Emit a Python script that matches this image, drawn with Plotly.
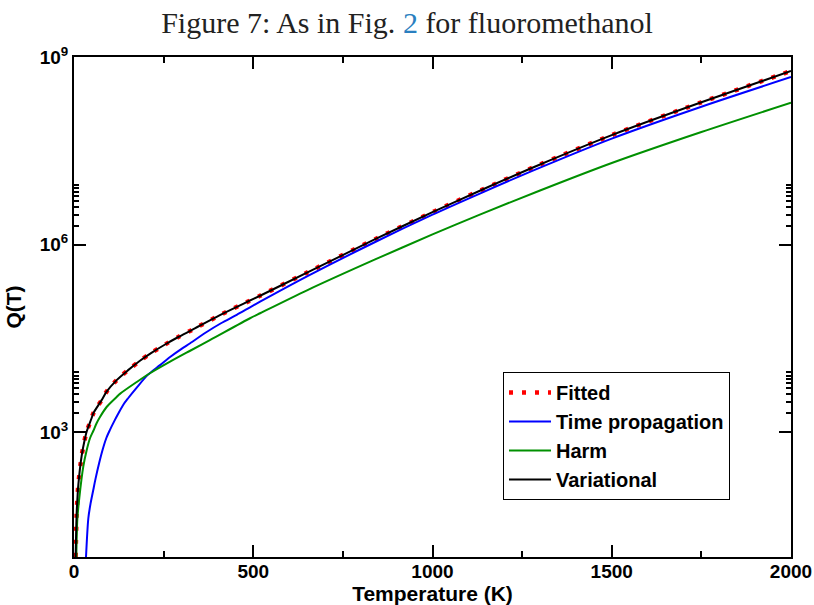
import plotly.graph_objects as go

# ---- data (log10 of Q(T)) ----
temp_variational = [4.5, 7.4, 9.3, 12, 21.4, 30.7, 35, 49, 54, 68, 77, 91, 119, 151, 184, 217,
                    254, 291, 328, 407, 519, 650, 840, 1000, 1132, 1300, 1500, 1750, 2000]
log_q_variational = [1.0, 1.7, 1.91, 2.15, 2.62, 2.90, 3.0, 3.22, 3.30, 3.43, 3.51, 3.645, 3.83,
                     3.99, 4.14, 4.27, 4.40, 4.52, 4.63, 4.87, 5.18, 5.55, 6.085, 6.517, 6.86,
                     7.28, 7.75, 8.275, 8.776]

temp_fitted = [4.5, 7.4, 9.3, 12, 21.4, 30.7, 35, 49, 54, 68, 77, 91, 119, 151, 184, 217,
               254, 291, 328, 407, 519, 650, 840, 1000, 1132, 1300, 1500, 1750, 2000]
log_q_fitted = [1.0, 1.7, 1.91, 2.15, 2.62, 2.90, 3.0, 3.22, 3.30, 3.43, 3.51, 3.645, 3.83,
                3.99, 4.14, 4.27, 4.40, 4.52, 4.63, 4.87, 5.18, 5.55, 6.085, 6.517, 6.86,
                7.28, 7.75, 8.275, 8.776]

temp_time_prop = [33.5, 40, 46, 54, 60, 70, 80, 90, 100, 112, 124, 138, 151, 175, 205, 240, 268,
                  300, 324, 370, 410, 454, 491, 519, 650, 840, 1000, 1132, 1300, 1500, 1750, 2000]
log_q_time_prop = [1.0, 1.62, 1.85, 2.08, 2.25, 2.50, 2.72, 2.90, 3.03, 3.17, 3.30, 3.44, 3.54,
                   3.71, 3.91, 4.07, 4.20, 4.33, 4.42, 4.60, 4.74, 4.875, 4.995, 5.085, 5.49,
                   6.04, 6.477, 6.815, 7.23, 7.695, 8.205, 8.68]

temp_harm = [6.5, 9.3, 14.9, 26, 35, 44.6, 54, 63, 72.5, 91, 119, 128, 175, 212, 268, 324, 379,
             491, 519, 650, 840, 1000, 1132, 1300, 1500, 1750, 2000]
log_q_harm = [1.0, 1.6, 1.95, 2.45, 2.70, 2.90, 3.02, 3.14, 3.24, 3.40, 3.56, 3.61, 3.80, 3.94,
              4.125, 4.30, 4.47, 4.82, 4.90, 5.267, 5.761, 6.161, 6.478, 6.864, 7.304, 7.80,
              8.269]

x_ticks = [0, 500, 1000, 1500, 2000]
x_minor_ticks = [250, 750, 1250, 1750]
y_ticks = [1e3, 1e6, 1e9]
y_tick_text = ["10<sup>3</sup>", "10<sup>6</sup>", "10<sup>9</sup>"]
y_minor_ticks = [m * 1e3 for m in range(2, 10)] + [m * 1e6 for m in range(2, 10)]

def q(vals):
    return [10 ** v for v in vals]

FONT = "Liberation Sans, Arial, sans-serif"
SMOOTH = 0.8

fig = go.Figure()
fig.add_trace(go.Scatter(x=temp_fitted, y=q(log_q_fitted), mode="lines", name="Fitted",
                         line=dict(color="#ff0000", width=4.5, dash="4px,9px",
                                   shape="spline", smoothing=SMOOTH)))
fig.add_trace(go.Scatter(x=temp_time_prop, y=q(log_q_time_prop), mode="lines",
                         name="Time propagation",
                         line=dict(color="#0000ff", width=2, shape="spline", smoothing=SMOOTH)))
fig.add_trace(go.Scatter(x=temp_harm, y=q(log_q_harm), mode="lines", name="Harm",
                         line=dict(color="#009000", width=2, shape="spline", smoothing=SMOOTH)))
fig.add_trace(go.Scatter(x=temp_variational, y=q(log_q_variational), mode="lines",
                         name="Variational",
                         line=dict(color="#000000", width=2, shape="spline", smoothing=SMOOTH)))

fig.update_layout(
    width=814, height=605,
    margin=dict(l=74, r=23, t=57, b=48),
    paper_bgcolor="white", plot_bgcolor="white",
    font=dict(family=FONT, color="black"),
    title=dict(
        text="Figure 7: As in Fig. <span style='color:#2a7fc0'>2</span> for fluoromethanol",
        font=dict(family="Liberation Serif, serif", size=30, color="#222222"),
        x=0.5, xanchor="center", xref="container",
        y=1 - 22 / 605, yanchor="middle", yref="container",
    ),
    showlegend=True,
    legend=dict(
        x=(503 - 74) / 717, y=(557 - 372) / 500, xanchor="left", yanchor="top",
        bgcolor="white", bordercolor="black", borderwidth=1,
        font=dict(family=FONT, size=20, weight="bold", color="black"),
        itemwidth=42, tracegroupgap=0,
    ),
)

fig.update_xaxes(
    range=[0, 2000], showgrid=False, zeroline=False, automargin=False,
    showline=True, linecolor="black", linewidth=2, mirror="ticks",
    ticks="inside", ticklen=12, tickwidth=2, tickcolor="black",
    tickmode="array", tickvals=x_ticks, ticklabelstandoff=-4,
    tickfont=dict(family=FONT, size=19, weight="bold"),
    minor=dict(tickmode="array", tickvals=x_minor_ticks, ticks="inside", ticklen=6,
               tickwidth=2, tickcolor="black", showgrid=False),
    title=dict(text="<b>Temperature (K)</b>", font=dict(family=FONT, size=21), standoff=2),
)

fig.update_yaxes(
    type="log", range=[1, 9], showgrid=False, zeroline=False, automargin=False,
    showline=True, linecolor="black", linewidth=2, mirror="ticks",
    ticks="inside", ticklen=12, tickwidth=2, tickcolor="black",
    tickmode="array", tickvals=y_ticks, ticktext=y_tick_text,
    tickfont=dict(family=FONT, size=19, weight="bold"),
    minor=dict(tickmode="array", tickvals=y_minor_ticks, ticks="inside", ticklen=5,
               tickwidth=1.5, tickcolor="black", showgrid=False),
    title=dict(text="<b>Q(T)</b>", font=dict(family=FONT, size=21), standoff=12),
)

fig.write_html("out.html")
